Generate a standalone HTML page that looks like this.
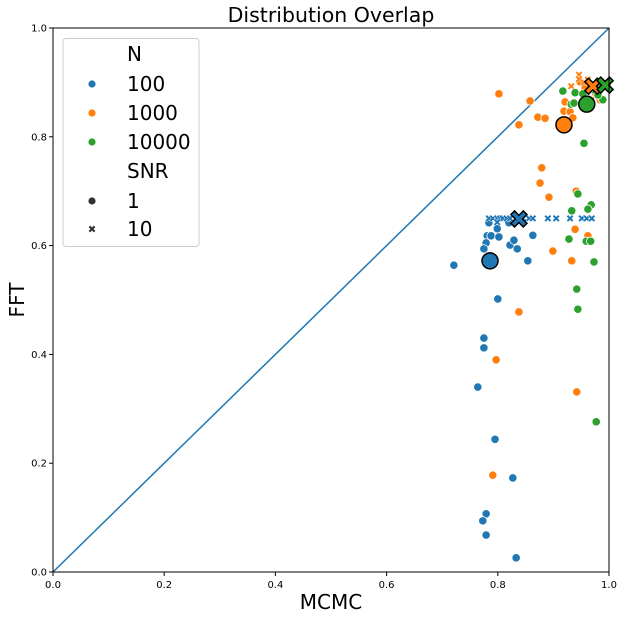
<!DOCTYPE html>
<html><head><meta charset="utf-8"><style>
body{margin:0;background:#fff;}
svg{display:block;font-family:"DejaVu Sans","Liberation Sans",sans-serif;}
</style></head><body>
<svg id="chart" width="626" height="619">
<rect x="0" y="0" width="626" height="619" fill="#fff"/>
</svg>
<script>
const colors=["#1f77b4","#ff7f0e","#2ca02c"];
const nLabels=["100","1000","10000"];
// [mcmc, fft]
const blueCircles=[[.784,.642],[.799,.631],[.820,.642],[.781,.618],[.788,.618],[.802,.616],[.779,.605],[.775,.594],[.822,.601],[.829,.610],[.835,.594],[.863,.619],[.854,.572],[.721,.564],[.800,.502],[.775,.430],[.775,.412],[.764,.340],[.795,.244],[.827,.173],[.779,.107],[.773,.094],[.779,.068],[.833,.026]];
const blueX=[[.784,.65],[.791,.65],[.799,.65],[.804,.65],[.809,.65],[.816,.65],[.822,.65],[.844,.65],[.856,.65],[.863,.65],[.890,.65],[.905,.65],[.930,.65],[.951,.65],[.960,.65],[.969,.65],[.799,.643],[.846,.643]];
const orangeCircles=[[.802,.879],[.858,.866],[.872,.836],[.885,.834],[.838,.822],[.921,.864],[.919,.847],[.930,.846],[.935,.835],[.879,.743],[.876,.715],[.892,.689],[.941,.700],[.939,.630],[.962,.618],[.899,.590],[.838,.478],[.797,.390],[.933,.572],[.942,.331],[.791,.178],[.948,.901],[.957,.890],[.984,.868]];
const orangeX=[[.946,.914],[.946,.906],[.932,.893],[.975,.874],[.955,.900],[.962,.905],[.980,.895]];
const greenCircles=[[.917,.884],[.939,.881],[.953,.879],[.932,.860],[.937,.862],[.989,.868],[.980,.877],[.955,.788],[.944,.695],[.933,.664],[.968,.675],[.962,.667],[.928,.612],[.959,.608],[.967,.608],[.973,.570],[.942,.520],[.944,.483],[.977,.276]];
const greenX=[[.985,.892],[.998,.899],[.975,.885]];
const means=[[.786,.572,0,"o"],[.838,.649,0,"x"],[.919,.822,1,"o"],[.971,.893,1,"x"],[.960,.860,2,"o"],[.993,.895,2,"x"]];
const xTicks=[0,0.2,0.4,0.6,0.8,1.0];
const yTicks=[0,0.2,0.4,0.6,0.8,1.0];

const L=53,R=609,T=28,B=572;
const sx=v=>L+v*(R-L), sy=v=>B-v*(B-T);
const svg=document.getElementById('chart');
const NS="http://www.w3.org/2000/svg";
function mk(tag,attrs,parent){const e=document.createElementNS(NS,tag);for(const k in attrs)e.setAttribute(k,attrs[k]);(parent||svg).appendChild(e);return e;}
function xpath(cx,cy,s){const w=s*0.45;return `M${cx-s},${cy-s+w}L${cx-s+w},${cy-s}L${cx},${cy-w}L${cx+s-w},${cy-s}L${cx+s},${cy-s+w}L${cx+w},${cy}L${cx+s},${cy+s-w}L${cx+s-w},${cy+s}L${cx},${cy+w}L${cx-s+w},${cy+s}L${cx-s},${cy+s-w}L${cx-w},${cy}Z`;}

const diag=mk('line',{x1:sx(0),y1:sy(0),x2:sx(1),y2:sy(1),stroke:"#1f77b4","stroke-width":1.5});



const groups=[[blueCircles,0,"o"],[blueX,0,"x"],[orangeCircles,1,"o"],[orangeX,1,"x"],[greenCircles,2,"o"],[greenX,2,"x"]];
groups.forEach(([arr,ci,m])=>{arr.forEach(p=>{let e;
 if(m==="o") e=mk('circle',{cx:sx(p[0]),cy:sy(p[1]),r:4.2,fill:colors[ci],stroke:"#fff","stroke-width":0.8});
 else e=mk('path',{d:xpath(sx(p[0]),sy(p[1]),3.6),fill:colors[ci],stroke:"#fff","stroke-width":0.5});
 
 
});});
means.forEach(p=>{let e;
 if(p[3]==="o") e=mk('circle',{cx:sx(p[0]),cy:sy(p[1]),r:8,fill:colors[p[2]],stroke:"#000","stroke-width":1.5});
 else e=mk('path',{d:xpath(sx(p[0]),sy(p[1]),8),fill:colors[p[2]],stroke:"#000","stroke-width":1.5});
 
 
});

const fr=mk('rect',{x:L,y:T,width:R-L,height:B-T,fill:"none",stroke:"#000","stroke-width":1});


xTicks.forEach(t=>{mk('line',{x1:sx(t),y1:B,x2:sx(t),y2:B+4,stroke:"#000"});
 const tx=mk('text',{x:sx(t),y:B+16,"font-size":10,"text-anchor":"middle"});tx.textContent=t.toFixed(1);
 
 });
yTicks.forEach(t=>{mk('line',{x1:L-4,y1:sy(t),x2:L,y2:sy(t),stroke:"#000"});
 const tx=mk('text',{x:L-6,y:sy(t)+3.5,"font-size":10,"text-anchor":"end"});tx.textContent=t.toFixed(1);
 
 });

let t=mk('text',{x:331,y:22,"font-size":20.5,"text-anchor":"middle"});t.textContent="Distribution Overlap";


t=mk('text',{x:331,y:609,"font-size":20,"text-anchor":"middle"});t.textContent="MCMC";


t=mk('text',{x:0,y:0,"font-size":20,"text-anchor":"middle",transform:"translate(24,300) rotate(-90)"});t.textContent="FFT";



const lg=mk('g',{});


mk('rect',{x:63,y:38.5,width:136,height:208,rx:3,fill:"#fff","fill-opacity":0.8,stroke:"#ccc"},lg);
const rows=[["N",null,null,54],["100",colors[0],"o",84],["1000",colors[1],"o",113],["10000",colors[2],"o",142],["SNR",null,null,171],["1","#333","o",201],["10","#333","x",229]];
rows.forEach(r=>{const tx=mk('text',{x:127,y:r[3]+7,"font-size":20},lg);tx.textContent=r[0];
 
 
 if(r[1]){if(r[2]==="o")mk('circle',{cx:92,cy:r[3],r:3.6,fill:r[1]},lg);else mk('path',{d:xpath(92,r[3],3.4),fill:r[1]},lg);}});
</script>
</body></html>
